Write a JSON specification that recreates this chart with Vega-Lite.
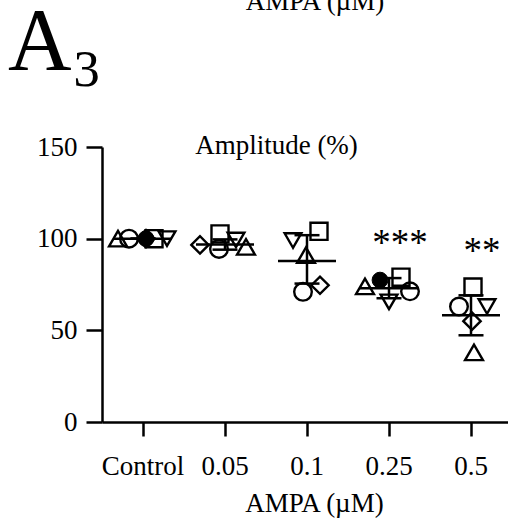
{
  "$schema": "https://vega.github.io/schema/vega-lite/v6.json",
  "width": 423,
  "height": 275,
  "autosize": "none",
  "padding": {"left": 85, "top": 147, "right": 0, "bottom": 96},
  "background": "white",
  "title": {"text": "A₃", "anchor": "start", "frame": "group", "fontSize": 88, "fontWeight": "normal", "font": "Liberation Serif", "color": "black", "offset": 0, "baseline": "alphabetic", "dx": -77, "dy": 169},
  "config": {
    "font": "Liberation Serif",
    "view": {"stroke": null},
    "axis": {"grid": false, "domainColor": "black", "tickColor": "black", "labelColor": "black", "titleColor": "black", "labelFont": "Liberation Serif", "titleFont": "Liberation Serif", "labelFontSize": 27, "titleFontSize": 27, "titleFontWeight": "normal", "domainWidth": 2.5, "tickWidth": 2.5}
  },
  "datasets": {
    "points": [
      {"group": "Control", "subject": "S1", "value": 100, "jitter": -25},
      {"group": "Control", "subject": "S2", "value": 100, "jitter": -14},
      {"group": "Control", "subject": "S3", "value": 100, "jitter": 3},
      {"group": "Control", "subject": "S6", "value": 100, "jitter": 3},
      {"group": "Control", "subject": "S4", "value": 100, "jitter": 11},
      {"group": "Control", "subject": "S5", "value": 100, "jitter": 24},
      {"group": "0.05", "subject": "S3", "value": 96.6, "jitter": -25},
      {"group": "0.05", "subject": "S4", "value": 102.6, "jitter": -5},
      {"group": "0.05", "subject": "S2", "value": 94.4, "jitter": -6},
      {"group": "0.05", "subject": "S5", "value": 99.3, "jitter": 11},
      {"group": "0.05", "subject": "S1", "value": 95.5, "jitter": 21},
      {"group": "0.1", "subject": "S5", "value": 99, "jitter": -14},
      {"group": "0.1", "subject": "S1", "value": 91, "jitter": -1},
      {"group": "0.1", "subject": "S2", "value": 71, "jitter": -4},
      {"group": "0.1", "subject": "S4", "value": 104, "jitter": 12},
      {"group": "0.1", "subject": "S3", "value": 74.6, "jitter": 13},
      {"group": "0.25", "subject": "S1", "value": 74, "jitter": -24},
      {"group": "0.25", "subject": "S6", "value": 77.4, "jitter": -9},
      {"group": "0.25", "subject": "S4", "value": 79, "jitter": 12},
      {"group": "0.25", "subject": "S2", "value": 71.3, "jitter": 21},
      {"group": "0.25", "subject": "S5", "value": 65.5, "jitter": 0},
      {"group": "0.5", "subject": "S4", "value": 73.6, "jitter": 2},
      {"group": "0.5", "subject": "S2", "value": 63, "jitter": -12},
      {"group": "0.5", "subject": "S5", "value": 63, "jitter": 16},
      {"group": "0.5", "subject": "S3", "value": 55, "jitter": 1},
      {"group": "0.5", "subject": "S1", "value": 38, "jitter": 3}
    ],
    "summary": [
      {"group": "Control", "mean": 100, "lo": 100, "hi": 100},
      {"group": "0.05", "mean": 96.8, "lo": 94, "hi": 99.6},
      {"group": "0.1", "mean": 87.8, "lo": 75.5, "hi": 101.9},
      {"group": "0.25", "mean": 73, "lo": 67.5, "hi": 78.5},
      {"group": "0.5", "mean": 58.2, "lo": 47.3, "hi": 69.1}
    ],
    "sig": [
      {"group": "0.25", "label": "***", "pos": 91.1},
      {"group": "0.5", "label": "**", "pos": 86.9}
    ]
  },
  "layer": [
    {
      "data": {"name": "summary"},
      "mark": {"type": "rule", "color": "black", "strokeWidth": 2.5},
      "encoding": {
        "x": {"field": "group", "type": "nominal", "scale": {"domain": ["Control", "0.05", "0.1", "0.25", "0.5"], "range": [17, 427], "paddingInner": 0, "paddingOuter": 0}, "title": "AMPA (µM)", "axis": {"labelAngle": 0, "tickSize": 14, "labelPadding": 38, "labelBaseline": "alphabetic", "titleX": 229, "titleY": 89, "titleBaseline": "alphabetic", "titleAlign": "center", "titleAnchor": null}},
        "y": {"field": "lo", "type": "quantitative", "scale": {"domain": [0, 150]}, "title": "Amplitude (%)", "axis": {"values": [0, 50, 100, 150], "offset": -17, "tickSize": 16, "labelPadding": 9, "titleAngle": 0, "titleX": 174, "titleY": 6, "titleBaseline": "alphabetic", "titleAlign": "center", "titleAnchor": null}},
        "y2": {"field": "hi"}
      }
    },
    {
      "data": {"name": "summary"},
      "mark": {"type": "tick", "color": "black", "size": 58, "thickness": 2.5, "opacity": 1},
      "encoding": {
        "x": {"field": "group", "type": "nominal", "scale": {"domain": ["Control", "0.05", "0.1", "0.25", "0.5"], "range": [17, 427], "paddingInner": 0, "paddingOuter": 0}, "title": "AMPA (µM)"},
        "y": {"field": "mean", "type": "quantitative", "scale": {"domain": [0, 150]}, "title": "Amplitude (%)"}
      }
    },
    {
      "data": {"name": "summary"},
      "mark": {"type": "tick", "color": "black", "size": 25, "thickness": 2.5, "opacity": 1},
      "encoding": {
        "x": {"field": "group", "type": "nominal", "scale": {"domain": ["Control", "0.05", "0.1", "0.25", "0.5"], "range": [17, 427], "paddingInner": 0, "paddingOuter": 0}, "title": "AMPA (µM)"},
        "y": {"field": "lo", "type": "quantitative", "scale": {"domain": [0, 150]}, "title": "Amplitude (%)"}
      }
    },
    {
      "data": {"name": "summary"},
      "mark": {"type": "tick", "color": "black", "size": 25, "thickness": 2.5, "opacity": 1},
      "encoding": {
        "x": {"field": "group", "type": "nominal", "scale": {"domain": ["Control", "0.05", "0.1", "0.25", "0.5"], "range": [17, 427], "paddingInner": 0, "paddingOuter": 0}, "title": "AMPA (µM)"},
        "y": {"field": "hi", "type": "quantitative", "scale": {"domain": [0, 150]}, "title": "Amplitude (%)"}
      }
    },
    {
      "data": {"name": "points"},
      "transform": [{"filter": "datum.subject != 'S6'"}],
      "mark": {"type": "point", "filled": false, "stroke": "black", "strokeWidth": 2.4, "opacity": 1},
      "encoding": {
        "x": {"field": "group", "type": "nominal", "scale": {"domain": ["Control", "0.05", "0.1", "0.25", "0.5"], "range": [17, 427], "paddingInner": 0, "paddingOuter": 0}, "title": "AMPA (µM)"},
        "xOffset": {"field": "jitter", "type": "quantitative", "scale": {"domain": [-41, 41]}},
        "y": {"field": "value", "type": "quantitative", "scale": {"domain": [0, 150]}, "title": "Amplitude (%)"},
        "shape": {"field": "subject", "type": "nominal", "scale": {"domain": ["S1", "S2", "S3", "S4", "S5", "S6"], "range": ["triangle-up", "circle", "diamond", "square", "triangle-down", "circle"]}, "legend": null},
        "size": {"field": "subject", "type": "nominal", "scale": {"domain": ["S1", "S2", "S3", "S4", "S5", "S6"], "range": [320, 270, 400, 270, 320, 250]}, "legend": null}
      }
    },
    {
      "data": {"name": "points"},
      "transform": [{"filter": "datum.subject == 'S6'"}],
      "mark": {"type": "point", "filled": true, "fill": "black", "stroke": "black", "strokeWidth": 1, "opacity": 1, "shape": "circle", "size": 250},
      "encoding": {
        "x": {"field": "group", "type": "nominal", "scale": {"domain": ["Control", "0.05", "0.1", "0.25", "0.5"], "range": [17, 427], "paddingInner": 0, "paddingOuter": 0}, "title": "AMPA (µM)"},
        "xOffset": {"field": "jitter", "type": "quantitative", "scale": {"domain": [-41, 41]}},
        "y": {"field": "value", "type": "quantitative", "scale": {"domain": [0, 150]}, "title": "Amplitude (%)"}
      }
    },
    {
      "data": {"name": "sig"},
      "mark": {"type": "text", "fontSize": 37, "font": "Liberation Serif", "color": "black", "baseline": "alphabetic", "align": "center", "dx": 11},
      "encoding": {
        "x": {"field": "group", "type": "nominal", "scale": {"domain": ["Control", "0.05", "0.1", "0.25", "0.5"], "range": [17, 427], "paddingInner": 0, "paddingOuter": 0}, "title": "AMPA (µM)"},
        "y": {"field": "pos", "type": "quantitative", "scale": {"domain": [0, 150]}, "title": "Amplitude (%)"},
        "text": {"field": "label"}
      }
    },
    {
      "data": {"values": [{"label": "AMPA (µM)"}]},
      "mark": {"type": "text", "fontSize": 27, "font": "Liberation Serif", "color": "black", "baseline": "alphabetic", "align": "center", "dx": 8},
      "encoding": {
        "x": {"datum": "0.1", "type": "nominal", "scale": {"domain": ["Control", "0.05", "0.1", "0.25", "0.5"], "range": [17, 427], "paddingInner": 0, "paddingOuter": 0}, "title": "AMPA (µM)"},
        "y": {"datum": 225, "type": "quantitative", "scale": {"domain": [0, 150]}, "title": "Amplitude (%)"},
        "text": {"field": "label"}
      }
    }
  ]
}
